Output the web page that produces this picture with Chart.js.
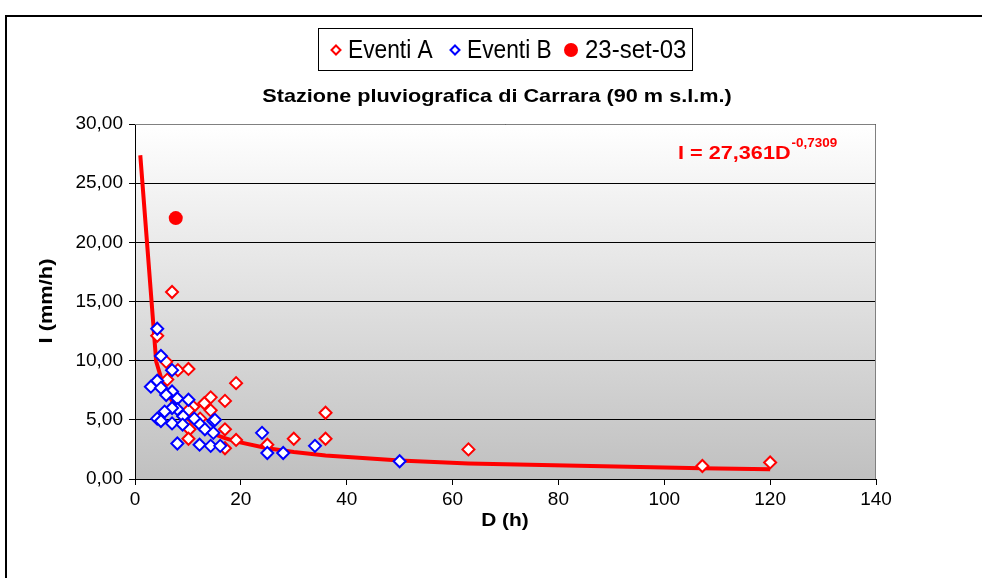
<!DOCTYPE html>
<html>
<head>
<meta charset="utf-8">
<script src="https://cdn.jsdelivr.net/npm/chart.js@4"></script>
<style>
 body{margin:0;background:#fff;}
</style>
</head>
<body>
<canvas id="grafica" width="982" height="578"></canvas>
<script>
// dati (D in ore, I in mm/h)
const eventiA_D = [4.2, 7.0, 5.9, 8.1, 10.1, 6.1, 19.1, 14.3, 13.1, 17.0, 11.0, 14.3, 10.1, 10.3, 12.3, 17.0, 19.1, 10.1, 17.0, 36.0, 25.0, 30.0, 36.0, 63.0, 107.2, 120.0];
const eventiA_I = [12.1, 15.8, 9.9, 9.2, 9.3, 8.4, 8.1, 6.9, 6.4, 6.6, 6.1, 5.8, 5.8, 4.2, 5.1, 4.2, 3.3, 3.4, 2.6, 5.6, 2.9, 3.4, 3.4, 2.5, 1.1, 1.4];

const eventiB_D = [4.2, 4.9, 7.0, 4.2, 3.0, 4.9, 7.0, 5.9, 8.0, 10.1, 8.0, 7.0, 5.6, 9.1, 11.2, 4.2, 4.9, 7.0, 9.0, 12.3, 13.2, 14.8, 15.1, 14.8, 8.0, 12.2, 14.3, 16.1, 24.0, 25.0, 28.0, 34.0, 50.0];
const eventiB_I = [12.7, 10.4, 9.2, 8.3, 7.8, 7.7, 7.4, 7.1, 6.8, 6.7, 5.9, 6.0, 5.7, 5.3, 5.1, 5.1, 4.9, 4.7, 4.6, 4.6, 4.2, 4.9, 5.0, 3.9, 3.0, 2.9, 2.8, 2.8, 3.9, 2.2, 2.2, 2.8, 1.5];

const evento_D = [7.7];
const evento_I = [22.05];

// curva I = 27,361 D^-0,7309 (valori tabulati)
const curva_D = [1, 4, 5, 6, 7, 8, 10, 12, 15, 17, 19, 25, 30, 36, 50, 63, 107, 120];
const curva_I = [27.36, 9.93, 8.44, 7.39, 6.60, 5.98, 5.08, 4.45, 3.78, 3.45, 3.18, 2.60, 2.28, 1.99, 1.57, 1.32, 0.90, 0.83];

const yTicks = [0, 5, 10, 15, 20, 25, 30];
const xTicks = [0, 20, 40, 60, 80, 100, 120, 140];

const titolo = "Stazione pluviografica di Carrara (90 m s.l.m.)";
const legenda = ["Eventi A", "Eventi B", "23-set-03"];

const FONT = "'Liberation Sans', Arial, sans-serif";

function punti(xs, ys){
    return xs.map((x, i) => ({x: x, y: ys[i]}));
}

// testo con allargamento orizzontale (il font originale e' piu' largo/stretto)
function testo(c, t, x, y, font, sx, align){
    c.save();
    c.font = font;
    c.textAlign = align || "left";
    c.translate(x, y);
    c.scale(sx, 1);
    c.fillText(t, 0, 0);
    const w = c.measureText(t).width * sx;
    c.restore();
    return w;
}

// sfondo sfumato, cornice, legenda, titolo, equazione
const decorazioni = {
    id: "decorazioni",
    beforeDraw(chart){
        const c = chart.ctx;
        const a = chart.chartArea;
        const g = c.createLinearGradient(0, a.top, 0, a.bottom);
        g.addColorStop(0, "#ffffff");
        g.addColorStop(1, "#c0c0c0");
        c.save();
        c.fillStyle = g;
        c.fillRect(a.left, a.top, a.right - a.left, a.bottom - a.top);
        c.restore();
    },
    beforeDatasetsDraw(chart){
        const c = chart.ctx;
        const a = chart.chartArea;
        c.save();
        c.strokeStyle = "#808080";
        c.lineWidth = 1;
        c.beginPath();
        c.moveTo(a.left, a.top + 0.5);
        c.lineTo(a.right - 0.5, a.top + 0.5);
        c.lineTo(a.right - 0.5, a.bottom);
        c.stroke();
        c.restore();
    },
    afterDraw(chart){
        const c = chart.ctx;
        c.save();
        // cornice esterna
        c.strokeStyle = "#000";
        c.lineWidth = 2;
        c.beginPath();
        c.moveTo(982, 16);
        c.lineTo(6, 16);
        c.lineTo(6, 578);
        c.stroke();

        // legenda
        c.lineWidth = 1;
        c.strokeStyle = "#000";
        c.strokeRect(318.5, 28.5, 374, 42);
        const rombo = (x, y, col) => {
            c.beginPath();
            c.moveTo(x, y - 4.5);
            c.lineTo(x + 4.5, y);
            c.lineTo(x, y + 4.5);
            c.lineTo(x - 4.5, y);
            c.closePath();
            c.fillStyle = "#fff";
            c.fill();
            c.strokeStyle = col;
            c.lineWidth = 2;
            c.stroke();
        };
        rombo(336, 50, "#ff0000");
        rombo(455, 50, "#0000ff");
        c.beginPath();
        c.arc(571, 50, 7, 0, Math.PI * 2);
        c.fillStyle = "#ff0000";
        c.fill();
        c.fillStyle = "#000";
        c.textBaseline = "middle";
        testo(c, legenda[0], 348, 51, "25px " + FONT, 0.91);
        testo(c, legenda[1], 467, 51, "25px " + FONT, 0.91);
        testo(c, legenda[2], 585, 51, "25px " + FONT, 0.96);

        // titolo
        testo(c, titolo, 497, 97, "bold 19px " + FONT, 1.14, "center");

        // titoli assi
        testo(c, "D (h)", 505, 521, "bold 19px " + FONT, 1.1, "center");
        c.save();
        c.translate(47, 301);
        c.rotate(-Math.PI / 2);
        testo(c, "I (mm/h)", 0, 0, "bold 19px " + FONT, 1.15, "center");
        c.restore();

        // equazione
        c.fillStyle = "#ff0000";
        c.textBaseline = "alphabetic";
        const w = testo(c, "I = 27,361D", 678, 159, "bold 19px " + FONT, 1.14);
        testo(c, "-0,7309", 678 + w + 1, 147, "bold 12px " + FONT, 1.12);
        c.restore();
    }
};

const grafica = document.querySelector("#grafica").getContext("2d");

const mychart = new Chart(grafica, {
    type: "scatter",
    data: {
        datasets: [
            {
                label: legenda[2],
                data: punti(evento_D, evento_I),
                pointStyle: "circle",
                pointRadius: 7,
                backgroundColor: "#ff0000",
                borderColor: "#ff0000",
                borderWidth: 0,
                order: 0
            },
            {
                label: legenda[1],
                data: punti(eventiB_D, eventiB_I),
                pointStyle: "rectRot",
                pointRadius: 6,
                backgroundColor: "#ffffff",
                borderColor: "#0000ff",
                borderWidth: 2,
                order: 1
            },
            {
                label: legenda[0],
                data: punti(eventiA_D, eventiA_I),
                pointStyle: "rectRot",
                pointRadius: 6,
                backgroundColor: "#ffffff",
                borderColor: "#ff0000",
                borderWidth: 2,
                order: 2
            },
            {
                label: "curva",
                data: punti(curva_D, curva_I),
                showLine: true,
                pointRadius: 0,
                borderColor: "#ff0000",
                borderWidth: 4,
                fill: false,
                order: 3
            }
        ]
    },
    options: {
        responsive: false,
        animation: false,
        layout: { padding: { left: 5, top: 124, right: 106, bottom: 0 } },
        plugins: {
            legend: { display: false },
            title: { display: false },
            tooltip: { enabled: false }
        },
        scales: {
            x: {
                type: "linear",
                min: 0,
                max: 140,
                afterFit: s => { s.height = 99; },
                afterBuildTicks: s => { s.ticks = xTicks.map(v => ({value: v})); },
                grid: { drawOnChartArea: false, drawTicks: true, tickLength: 6, color: "#000" },
                border: { color: "#000", width: 1 },
                ticks: { color: "#000", padding: 3, font: { family: FONT, size: 19 } }
            },
            y: {
                min: 0,
                max: 30,
                afterFit: s => { s.width = 130; },
                afterBuildTicks: s => { s.ticks = yTicks.map(v => ({value: v})); },
                grid: { color: "#000", lineWidth: 1, drawTicks: true, tickLength: 6 },
                border: { color: "#000", width: 1 },
                ticks: {
                    color: "#000",
                    padding: 6,
                    font: { family: FONT, size: 19 },
                    callback: v => v.toFixed(2).replace(".", ",")
                }
            }
        }
    },
    plugins: [decorazioni]
});
</script>
</body>
</html>
